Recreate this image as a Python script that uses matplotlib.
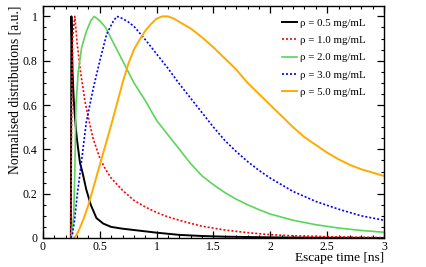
import matplotlib
matplotlib.use("Agg")
import matplotlib.pyplot as plt
from matplotlib.ticker import MultipleLocator

plt.rcParams['font.family'] = ['Liberation Serif', 'DejaVu Serif']

# ---- data ----
t_black = [0.245, 0.25, 0.26, 0.27, 0.28, 0.29, 0.30, 0.325, 0.35, 0.38, 0.42, 0.47, 0.53, 0.6, 0.7, 0.8, 0.9, 1.0, 1.2, 1.4, 1.6, 2.0, 2.5, 3.0]
v_black = [0.0, 1.0, 0.75, 0.63, 0.55, 0.49, 0.44, 0.34, 0.29, 0.22, 0.15, 0.09, 0.065, 0.05, 0.042, 0.036, 0.03, 0.024, 0.014, 0.009, 0.006, 0.003, 0.001, 0.0]

t_red = [0.245, 0.25, 0.26, 0.28, 0.30, 0.33, 0.37, 0.40, 0.44, 0.50, 0.55, 0.6, 0.7, 0.8, 0.9, 1.0, 1.1, 1.2, 1.3, 1.4, 1.6, 1.8, 2.0, 2.2, 2.5, 3.0]
v_red = [0.0, 0.5, 0.9, 1.0, 0.88, 0.75, 0.615, 0.54, 0.45, 0.36, 0.31, 0.27, 0.215, 0.17, 0.14, 0.115, 0.095, 0.08, 0.066, 0.053, 0.036, 0.024, 0.015, 0.01, 0.006, 0.002]

t_green = [0.245, 0.25, 0.27, 0.28, 0.29, 0.31, 0.34, 0.38, 0.42, 0.45, 0.5, 0.55, 0.6, 0.7, 0.8, 0.9, 1.0, 1.1, 1.2, 1.3, 1.4, 1.5, 1.6, 1.7, 1.8, 1.9, 2.0, 2.2, 2.4, 2.6, 2.8, 3.0]
v_green = [0.0, 0.01, 0.1, 0.3, 0.6, 0.75, 0.86, 0.93, 0.98, 1.0, 0.98, 0.95, 0.9, 0.8, 0.7, 0.62, 0.53, 0.465, 0.40, 0.335, 0.28, 0.24, 0.205, 0.175, 0.15, 0.128, 0.108, 0.08, 0.06, 0.045, 0.034, 0.026]

t_blue = [0.245, 0.26, 0.28, 0.30, 0.33, 0.38, 0.44, 0.5, 0.56, 0.62, 0.65, 0.7, 0.75, 0.8, 0.9, 1.0, 1.1, 1.2, 1.3, 1.4, 1.5, 1.6, 1.7, 1.8, 1.9, 2.0, 2.1, 2.2, 2.4, 2.6, 2.8, 3.0]
v_blue = [0.0, 0.02, 0.09, 0.19, 0.31, 0.52, 0.67, 0.8, 0.92, 0.98, 1.0, 0.99, 0.975, 0.955, 0.895, 0.83, 0.765, 0.695, 0.63, 0.565, 0.5, 0.44, 0.39, 0.345, 0.305, 0.27, 0.24, 0.21, 0.165, 0.13, 0.1, 0.08]

t_orange = [0.27, 0.29, 0.32, 0.36, 0.40, 0.45, 0.5, 0.55, 0.6, 0.65, 0.7, 0.75, 0.8, 0.85, 0.9, 0.95, 1.0, 1.05, 1.1, 1.15, 1.2, 1.3, 1.4, 1.5, 1.6, 1.7, 1.8, 1.9, 2.0, 2.1, 2.2, 2.3, 2.4, 2.5, 2.6, 2.7, 2.8, 2.9, 3.0]
v_orange = [0.0, 0.01, 0.04, 0.09, 0.15, 0.24, 0.33, 0.42, 0.51, 0.605, 0.70, 0.785, 0.85, 0.895, 0.935, 0.965, 0.99, 1.0, 1.0, 0.99, 0.975, 0.945, 0.905, 0.86, 0.81, 0.76, 0.70, 0.65, 0.60, 0.55, 0.5, 0.455, 0.42, 0.385, 0.355, 0.33, 0.31, 0.295, 0.28]

labels = ["ρ = 0.5 mg/mL", "ρ = 1.0 mg/mL", "ρ = 2.0 mg/mL", "ρ = 3.0 mg/mL", "ρ = 5.0 mg/mL"]

series = [
    (t_black, v_black, dict(color='black', lw=1.4, ls='-')),
    (t_red, v_red, dict(color='#ff0000', lw=1.2, ls=(0, (1.2, 1.2)))),
    (t_green, v_green, dict(color='#5ad65a', lw=1.2, ls='-')),
    (t_blue, v_blue, dict(color='#0000ff', lw=1.2, ls=(0, (1.2, 1.2)))),
    (t_orange, v_orange, dict(color='#ffaa00', lw=1.4, ls='-')),
]

fig = plt.figure(figsize=(4.27, 2.67), dpi=100)
ax = fig.add_axes([43/427, 29/267, 341/427, 232.5/267])

for (t, v, st), lab in zip(series, labels):
    ax.plot(t, v, label=lab, **st)

ax.set_xlim(0, 3)
ax.set_ylim(0, 1.049)
ax.xaxis.set_major_locator(MultipleLocator(0.5))
ax.xaxis.set_minor_locator(MultipleLocator(0.1))
ax.yaxis.set_major_locator(MultipleLocator(0.2))
ax.yaxis.set_minor_locator(MultipleLocator(0.05))
ax.xaxis.set_major_formatter(plt.FuncFormatter(lambda x, p: ('%g' % round(x, 2))))
ax.yaxis.set_major_formatter(plt.FuncFormatter(lambda x, p: ('%g' % round(x, 2))))
ax.tick_params(which='both', direction='in', top=True, right=True, labelsize=8.5)
ax.tick_params(which='major', length=5, width=0.9, pad=4)
ax.tick_params(axis='x', which='major', pad=2.5)
ax.tick_params(which='minor', length=2.5, width=0.8)
for s in ax.spines.values():
    s.set_linewidth(1.0)

ax.set_xlabel("Escape time [ns]", fontsize=9.6, ha='right', va='top')
ax.xaxis.set_label_coords(1.0, -14/232.5)
ax.set_ylabel("Normalised distributions [a.u.]", fontsize=9.8, ha='right', va='center')
ax.yaxis.set_label_coords(-28/341, 1.0)

leg = ax.legend(loc='upper left', bbox_to_anchor=(0.688, 0.965), frameon=False,
                fontsize=7.8, handlelength=1.4, handletextpad=0.3, labelspacing=0.72,
                borderaxespad=0)

fig.savefig("out.png", dpi=100)
